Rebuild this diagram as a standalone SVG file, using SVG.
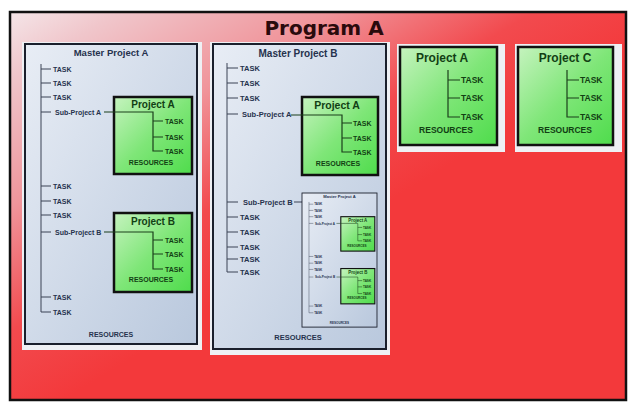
<svg xmlns="http://www.w3.org/2000/svg" xmlns:xlink="http://www.w3.org/1999/xlink" width="630" height="403" viewBox="0 0 630 403">
<defs>
<linearGradient id="bg" x1="0" y1="0" x2="250" y2="410" gradientUnits="userSpaceOnUse">
<stop offset="0" stop-color="#f6eef0"/>
<stop offset="0.15" stop-color="#f0c6cb"/>
<stop offset="0.38" stop-color="#f0959b"/>
<stop offset="0.6" stop-color="#f24a4e"/>
<stop offset="0.78" stop-color="#f3393b"/>
<stop offset="1" stop-color="#f3393b"/>
</linearGradient>
<linearGradient id="blue" x1="0" y1="0" x2="1" y2="1">
<stop offset="0" stop-color="#e8edf5"/>
<stop offset="1" stop-color="#b9c8dd"/>
</linearGradient>
<linearGradient id="green" x1="0" y1="0" x2="1" y2="1">
<stop offset="0" stop-color="#c6f3bf"/>
<stop offset="0.5" stop-color="#7fe678"/>
<stop offset="1" stop-color="#4fdc4c"/>
</linearGradient>
<style>
.frame{fill:url(#bg);stroke:#111;stroke-width:2.5}
.back{fill:#eef0f4}
.mbox{fill:url(#blue);stroke:#1a1f2c;stroke-width:2}
.gbox{fill:url(#green);stroke:#111;stroke-width:2.5}
.t{font-family:"Liberation Sans",Arial,sans-serif;font-weight:bold}
.mt{fill:#26324d}
.gt{fill:#123f14}
.ml{stroke:#3a4254;stroke-width:1;fill:none}
.gl{stroke:#1b3f1b;stroke-width:1.2;fill:none}
</style>
</defs>
<rect class="frame" x="10" y="12" width="616" height="388"/>
<text x="324" y="35" font-size="20" font-weight="bold" text-anchor="middle" fill="#2a0a0c" style="font-family:'DejaVu Sans',sans-serif">Program A</text>

<g id="master-a">
<rect class="back" x="22" y="42" width="180" height="308"/>
<g id="ma-body">
<rect class="mbox" x="25" y="44" width="172" height="300"/>
<text class="t mt" x="111" y="56" font-size="9.5" text-anchor="middle">Master Project A</text>
<g class="ml">
<path d="M41 64V312H51M41 69H51M41 83H51M41 97H51M41 112H51M41 186H51M41 201H51M41 215H51M41 232H51M41 297H51"/>
</g>
<g class="t mt" font-size="7">
<text x="53" y="71.5">TASK</text>
<text x="53" y="85.5">TASK</text>
<text x="53" y="99.5">TASK</text>
<text x="55" y="114.5">Sub-Project A</text>
<text x="53" y="188.5">TASK</text>
<text x="53" y="203.5">TASK</text>
<text x="53" y="217.5">TASK</text>
<text x="55" y="234.5">Sub-Project B</text>
<text x="53" y="299.5">TASK</text>
<text x="53" y="314.5">TASK</text>
<text x="111" y="337" text-anchor="middle">RESOURCES</text>
</g>
<g id="ma-proj-a">
<rect class="gbox" x="114" y="97" width="78" height="77"/>
<text class="t gt" x="153" y="108" font-size="10" text-anchor="middle">Project A</text>
<path class="gl" d="M104 112H153V151H163M153 121H163M153 137H163"/>
<g class="t gt" font-size="7">
<text x="165" y="123.5">TASK</text>
<text x="165" y="139.5">TASK</text>
<text x="165" y="153.5">TASK</text>
<text x="151" y="165" text-anchor="middle">RESOURCES</text>
</g>
</g>
<g id="ma-proj-b">
<rect class="gbox" x="114" y="213" width="78" height="79"/>
<text class="t gt" x="153" y="225" font-size="10" text-anchor="middle">Project B</text>
<path class="gl" d="M104 232H153V269H163M153 240H163M153 254H163"/>
<g class="t gt" font-size="7">
<text x="165" y="242.5">TASK</text>
<text x="165" y="256.5">TASK</text>
<text x="165" y="271.5">TASK</text>
<text x="151" y="282" text-anchor="middle">RESOURCES</text>
</g>
</g>
</g>
</g>

<g id="master-b">
<rect class="back" x="210" y="42" width="180" height="313"/>
<rect class="mbox" x="213" y="44" width="173" height="305"/>
<text class="t mt" x="298" y="57" font-size="10" text-anchor="middle">Master Project B</text>
<path class="ml" d="M227 63V272H238M227 68H238M227 83H238M227 98H238M227 114H238M227 202H238M227 217H238M227 232H238M227 247H238M227 259H238"/>
<g class="t mt" font-size="7.5">
<text x="240" y="70.5">TASK</text>
<text x="240" y="85.5">TASK</text>
<text x="240" y="100.5">TASK</text>
<text x="242" y="117">Sub-Project A</text>
<text x="243" y="205">Sub-Project B</text>
<text x="240" y="219.5">TASK</text>
<text x="240" y="234.5">TASK</text>
<text x="240" y="249.5">TASK</text>
<text x="240" y="261.5">TASK</text>
<text x="240" y="274.5">TASK</text>
<text x="298" y="340" text-anchor="middle">RESOURCES</text>
</g>
<path class="ml" d="M294 202H302"/>
<g id="mb-proj-a">
<rect class="gbox" x="302" y="97" width="76" height="78"/>
<text class="t gt" x="337" y="109" font-size="10.5" text-anchor="middle">Project A</text>
<path class="gl" d="M291 115H342V152H352M342 123H352M342 138H352"/>
<g class="t gt" font-size="7">
<text x="353" y="125.5">TASK</text>
<text x="353" y="140.5">TASK</text>
<text x="353" y="154.5">TASK</text>
<text x="338" y="166" text-anchor="middle">RESOURCES</text>
</g>
</g>
<g id="mb-sub-b">
<use xlink:href="#ma-body" href="#ma-body" transform="translate(302,193) scale(0.436,0.447) translate(-25,-44)"/>
</g>
</g>

<g id="project-a">
<rect class="back" x="397" y="44" width="108" height="108"/>
<rect class="gbox" x="400" y="47" width="97" height="98"/>
<text class="t gt" x="442" y="62" font-size="12" text-anchor="middle">Project A</text>
<path class="gl" d="M448 70V117H460M448 80H460M448 98H460"/>
<g class="t gt" font-size="8.5">
<text x="461" y="83">TASK</text>
<text x="461" y="101">TASK</text>
<text x="461" y="120">TASK</text>
<text x="446" y="133" text-anchor="middle">RESOURCES</text>
</g>
</g>

<g id="project-c">
<rect class="back" x="515" y="44" width="107" height="108"/>
<rect class="gbox" x="518" y="47" width="95" height="98"/>
<text class="t gt" x="565" y="62" font-size="12" text-anchor="middle">Project C</text>
<path class="gl" d="M567 70V117H579M567 80H579M567 98H579"/>
<g class="t gt" font-size="8.5">
<text x="580" y="83">TASK</text>
<text x="580" y="101">TASK</text>
<text x="580" y="120">TASK</text>
<text x="565" y="133" text-anchor="middle">RESOURCES</text>
</g>
</g>
</svg>
